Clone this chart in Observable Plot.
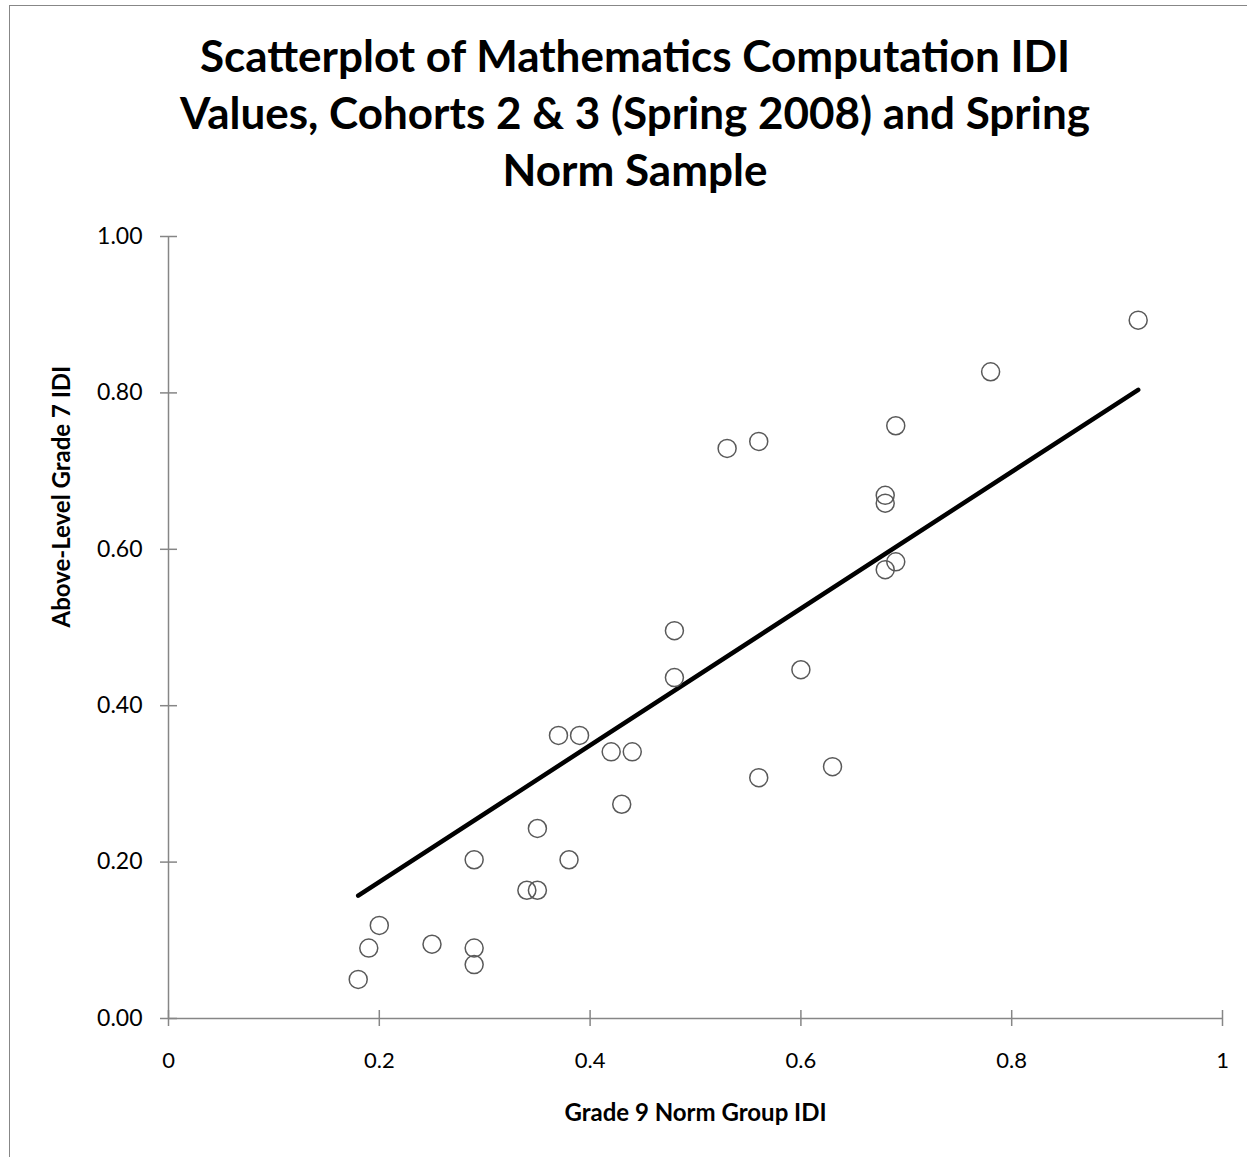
<!DOCTYPE html>
<html>
<head>
<meta charset="utf-8">
<script src="https://cdn.jsdelivr.net/npm/d3@7"></script>
<script src="https://cdn.jsdelivr.net/npm/@observablehq/plot@0.6"></script>
<style>
  html, body { margin: 0; padding: 0; background: #fff; overflow: hidden; }
  #title { position: absolute; left: 10px; width: 1250px; top: 27px; text-align: center;
           font-family: Lato, "Liberation Sans", sans-serif; font-weight: bold; font-size: 44px; line-height: 57px; color: #000; }
  #chart { position: absolute; left: 0; top: 200px; }
  #border { position: absolute; left: 9px; top: 5px; width: 1400px; height: 1400px;
            border-left: 1.5px solid #878787; border-top: 1.5px solid #878787; pointer-events: none; }
</style>
</head>
<body>
<div id="title">Scatterplot of Mathematics Computation IDI<br>Values, Cohorts 2 &amp; 3 (Spring 2008) and Spring<br>Norm Sample</div>
<div id="chart"></div>
<div id="border"></div>
<script>
// Grade 9 norm group IDI (x) and above-level grade 7 IDI (y)
const xValues = [0.92, 0.78, 0.69, 0.56, 0.53, 0.68, 0.68, 0.69, 0.68, 0.48,
                 0.48, 0.60, 0.37, 0.39, 0.42, 0.44, 0.56, 0.63, 0.43, 0.35,
                 0.29, 0.38, 0.34, 0.35, 0.20, 0.19, 0.25, 0.29, 0.29, 0.18];
const yValues = [0.893, 0.827, 0.758, 0.738, 0.729, 0.669, 0.659, 0.584, 0.574, 0.496,
                 0.436, 0.446, 0.362, 0.362, 0.341, 0.341, 0.308, 0.322, 0.274, 0.243,
                 0.203, 0.203, 0.164, 0.164, 0.119, 0.090, 0.095, 0.090, 0.069, 0.050];
// trendline endpoints
const trendX = [0.18, 0.92];
const trendY = [0.157, 0.804];
// axis ticks
const xTicks = [0, 0.2, 0.4, 0.6, 0.8, 1];
const yTicks = [0, 0.2, 0.4, 0.6, 0.8, 1];
const xLabel = "Grade 9 Norm Group IDI";
const yLabel = "Above-Level Grade 7 IDI";

const points = xValues.map((x, i) => ({x, y: yValues[i]}));
const trend = trendX.map((x, i) => ({x, y: trendY[i]}));

const axisColor = "#868686";
const font = "Lato, 'Liberation Sans', sans-serif";

const chart = Plot.plot({
  width: 1247,
  height: 957,
  marginTop: 36,
  marginRight: 25,
  marginBottom: 139,
  marginLeft: 168,
  style: {background: "transparent", fontFamily: font, fontSize: "22px", color: "#000"},
  x: {domain: [0, 1], label: null},
  y: {domain: [0, 1], label: null},
  marks: [
    Plot.ruleY([0], {stroke: axisColor, strokeWidth: 1.5}),
    Plot.ruleX([0], {stroke: axisColor, strokeWidth: 1.5}),
    Plot.axisX({ticks: xTicks, tickSize: 16, dy: -8, tickPadding: 26, stroke: axisColor, strokeWidth: 1.5,
                tickFormat: d3.format("~g"), fill: "#000", fontSize: 22}),
    Plot.axisY({ticks: yTicks, tickSize: 17, dx: 9, tickPadding: 18, stroke: axisColor, strokeWidth: 1.5,
                tickFormat: d3.format(".2f"), fill: "#000", fontSize: 23}),
    Plot.line(trend, {x: "x", y: "y", stroke: "#000", strokeWidth: 4.5, strokeLinecap: "round"}),
    Plot.dot(points, {x: "x", y: "y", r: 9, stroke: "#595959", strokeWidth: 1.5, fill: "none"}),
    Plot.text([xLabel], {frameAnchor: "bottom", dy: 102, text: d => d, fontWeight: "bold", fontSize: 24, fill: "#000"}),
    Plot.text([yLabel], {frameAnchor: "left", dx: -106, rotate: -90, text: d => d, fontWeight: "bold", fontSize: 24, fill: "#000"})
  ]
});
document.getElementById("chart").appendChild(chart);
</script>
</body>
</html>
